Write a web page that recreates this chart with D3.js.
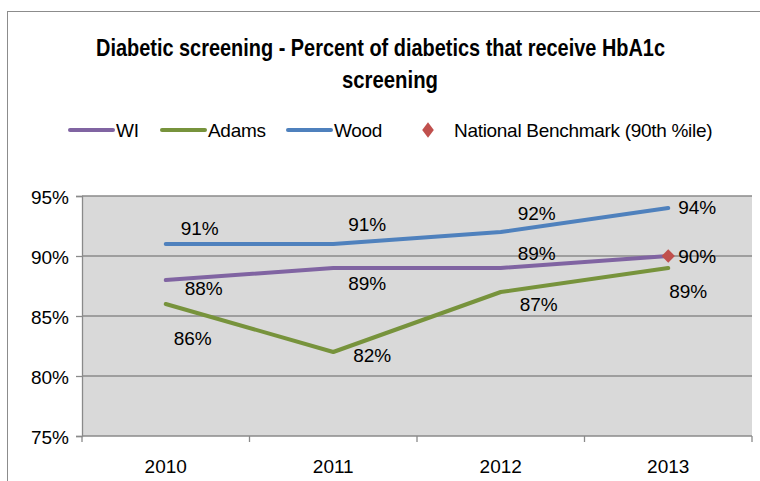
<!DOCTYPE html>
<meta charset="utf-8">
<style>
  body { margin: 0; background: #fff; }
  text { font-family: "Liberation Sans", Arial, sans-serif; fill: #000; }
</style>
<script src="https://d3js.org/d3.v7.min.js"></script>
<div id="my_dataviz"></div>
<script>
// data
var years = ["2010", "2011", "2012", "2013"];
var wi = [88, 89, 89, 90];
var adams = [86, 82, 87, 89];
var wood = [91, 91, 92, 94];
var benchmark = [null, null, null, 90];
var yTicks = [75, 80, 85, 90, 95];

// label offsets (px) from each point, picked to match the original placement
var woodOff = [[34, -9], [34, -13], [36, -12], [29, 6]];
var wiOff = [[38, 15], [34, 22], [36, -8], null];
var adamsOff = [[27, 41], [39, 10], [38, 19], [20, 30]];
var benchOff = [null, null, null, [29, 7]];

var width = 760, height = 481;
var plotLeft = 82, plotRight = 752, plotTop = 196, plotBottom = 436;

var svg = d3.select("#my_dataviz")
  .append("svg")
    .attr("width", width)
    .attr("height", height);

// chart frame
svg.append("rect")
  .attr("x", 7.5).attr("y", 11.5)
  .attr("width", 800).attr("height", 500)
  .attr("fill", "#fff")
  .attr("stroke", "#8c8c8c");

var x = d3.scaleBand().domain(years).range([plotLeft, plotRight]);
var y = d3.scaleLinear().domain([75, 95]).range([plotBottom, plotTop]);

// plot area
svg.append("rect")
  .attr("x", plotLeft).attr("y", plotTop)
  .attr("width", plotRight - plotLeft).attr("height", plotBottom - plotTop)
  .attr("fill", "#d9d9d9");

// gridlines
svg.selectAll(".grid")
  .data(yTicks.slice(1))
  .enter().append("line")
    .attr("x1", plotLeft).attr("x2", plotRight)
    .attr("y1", function(d) { return y(d); })
    .attr("y2", function(d) { return y(d); })
    .attr("stroke", "#8a8a8a").attr("stroke-width", 1.3);

// y axis
var yAxis = svg.append("g")
  .attr("transform", "translate(" + plotLeft + ",0)")
  .call(d3.axisLeft(y).tickValues(yTicks).tickSize(6).tickPadding(8)
    .tickFormat(function(d) { return d + "%"; }));
yAxis.select(".domain").attr("stroke", "#8a8a8a").attr("stroke-width", 1.3);
yAxis.selectAll(".tick line").attr("stroke", "#8a8a8a").attr("stroke-width", 1.3);
yAxis.selectAll(".tick text")
  .attr("font-size", 19).attr("font-family", null).attr("fill", "#000")
  .attr("dy", "0.4em").attr("x", -13);

// x axis with ticks on band edges
var xg = svg.append("g").attr("transform", "translate(0," + plotBottom + ")");
xg.append("line").attr("x1", plotLeft).attr("x2", plotRight)
  .attr("stroke", "#8a8a8a").attr("stroke-width", 1.3);
var edges = years.map(function(d) { return x(d); }).concat([plotRight]);
xg.selectAll(".xt").data(edges).enter().append("line")
  .attr("x1", function(d) { return d; }).attr("x2", function(d) { return d; })
  .attr("y1", 0).attr("y2", 6)
  .attr("stroke", "#8a8a8a").attr("stroke-width", 1.3);
xg.selectAll(".xl").data(years).enter().append("text")
  .attr("x", function(d) { return x(d) + x.bandwidth() / 2; })
  .attr("y", 37)
  .attr("text-anchor", "middle")
  .attr("font-size", 19)
  .text(function(d) { return d; });

function cx(i) { return x(years[i]) + x.bandwidth() / 2; }

var line = d3.line()
  .defined(function(d) { return d != null; })
  .x(function(d, i) { return cx(i); })
  .y(function(d) { return y(d); });

var series = [
  { vals: wi, color: "#8064a2", off: wiOff },
  { vals: adams, color: "#77933c", off: adamsOff },
  { vals: wood, color: "#4f81bd", off: woodOff }
];

series.forEach(function(s) {
  svg.append("path")
    .datum(s.vals)
    .attr("d", line)
    .attr("fill", "none")
    .attr("stroke", s.color)
    .attr("stroke-width", 4)
    .attr("stroke-linecap", "round")
    .attr("stroke-linejoin", "round");
});

// benchmark diamond
benchmark.forEach(function(v, i) {
  if (v == null) return;
  svg.append("path")
    .attr("d", d3.symbol().type(d3.symbolSquare).size(88))
    .attr("transform", "translate(" + cx(i) + "," + y(v) + ") rotate(45)")
    .attr("fill", "#c0504d");
});

// data labels
series.concat([{ vals: benchmark, off: benchOff }]).forEach(function(s) {
  s.vals.forEach(function(v, i) {
    if (v == null || !s.off[i]) return;
    svg.append("text")
      .attr("x", cx(i) + s.off[i][0])
      .attr("y", y(v) + s.off[i][1])
      .attr("text-anchor", "middle")
      .attr("font-size", 19)
      .text(v + "%");
  });
});

// title
svg.append("text")
  .attr("x", 380.5).attr("y", 56)
  .attr("text-anchor", "middle")
  .attr("font-size", 24).attr("font-weight", "bold")
  .attr("textLength", 569).attr("lengthAdjust", "spacingAndGlyphs")
  .text("Diabetic screening - Percent of diabetics that receive HbA1c");
svg.append("text")
  .attr("x", 390).attr("y", 88)
  .attr("text-anchor", "middle")
  .attr("font-size", 24).attr("font-weight", "bold")
  .attr("textLength", 96).attr("lengthAdjust", "spacingAndGlyphs")
  .text("screening");

// legend
var legend = [
  { name: "WI", color: "#8064a2", x: 70, type: "line" },
  { name: "Adams", color: "#77933c", x: 162, type: "line" },
  { name: "Wood", color: "#4f81bd", x: 288, type: "line" },
  { name: "National Benchmark (90th %ile)", color: "#c0504d", x: 410, type: "diamond" }
];
var lg = svg.selectAll(".lg").data(legend).enter().append("g")
  .attr("transform", function(d) { return "translate(" + d.x + ",130)"; });
lg.filter(function(d) { return d.type == "line"; })
  .append("line")
    .attr("x1", 0).attr("x2", 43)
    .attr("stroke", function(d) { return d.color; })
    .attr("stroke-width", 4).attr("stroke-linecap", "round");
lg.filter(function(d) { return d.type == "diamond"; })
  .append("path")
    .attr("d", d3.symbol().type(d3.symbolDiamond).size(70))
    .attr("transform", "translate(18,0) scale(1.3,1)")
    .attr("fill", function(d) { return d.color; });
lg.append("text")
  .attr("x", function(d) { return d.type == "line" ? 46 : 44; })
  .attr("y", 7)
  .attr("font-size", 19)
  .attr("letter-spacing", -0.3)
  .text(function(d) { return d.name; });
</script>
